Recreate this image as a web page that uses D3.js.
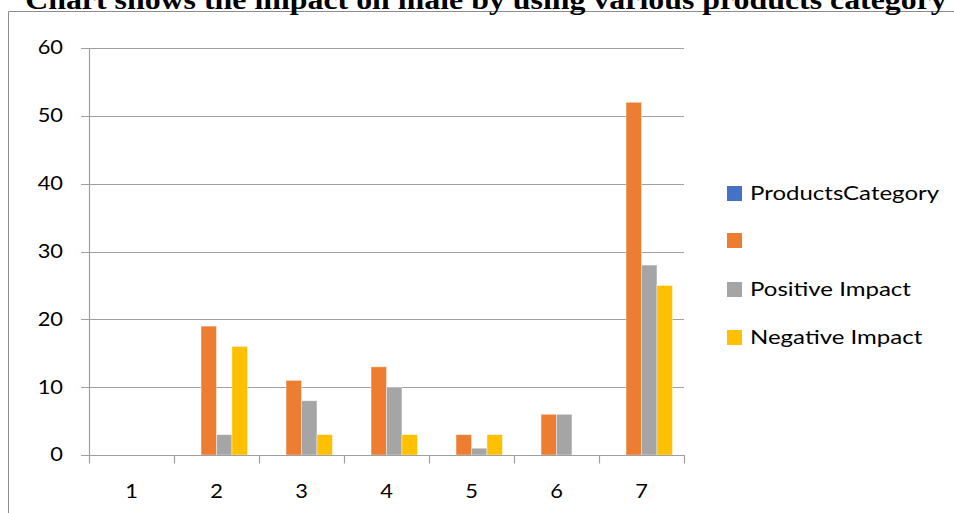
<!DOCTYPE html>
<html>
<head>
<meta charset="utf-8">
<script src="https://cdn.jsdelivr.net/npm/d3@7"></script>
<style>
  html, body { margin: 0; padding: 0; background: #fff; }
  svg { display: block; }
</style>
</head>
<body>
<svg id="chart" width="954" height="513"></svg>
<script>
// Chart data
const titleText = "Chart shows the impact on male by using various products category";
const categories = ["1", "2", "3", "4", "5", "6", "7"];
const seriesNames = ["ProductsCategory", "", "Positive Impact", "Negative Impact"];
const productsCategory = [0, 0, 0, 0, 0, 0, 0];
const unnamedSeries = [0, 19, 11, 13, 3, 6, 52];
const positiveImpact = [0, 3, 8, 10, 1, 6, 28];
const negativeImpact = [0, 16, 3, 3, 3, 0, 25];
const yTicks = [0, 10, 20, 30, 40, 50, 60];

const seriesValues = [productsCategory, unnamedSeries, positiveImpact, negativeImpact];
const colors = ["#4472C4", "#ED7D31", "#A5A5A5", "#FFC000"];
const sansFont = "Lato, 'Open Sans', sans-serif";
const stretch = 1.18; // the chart's lettering is set slightly wide

// Widen a text selection horizontally while keeping its glyph height
function widen(sel, factor) {
  sel.each(function () {
    const len = this.getComputedTextLength();
    if (len > 0) {
      d3.select(this)
        .attr("textLength", len * factor)
        .attr("lengthAdjust", "spacingAndGlyphs");
    }
  });
}

const svg = d3.select("#chart");

// Outer frame of the chart object
svg.append("path")
  .attr("d", "M8.5,513 L8.5,11.5 L954,11.5")
  .attr("fill", "none")
  .attr("stroke", "#8c8c8c")
  .attr("stroke-width", 1);

// Title
svg.append("text")
  .attr("x", 486)
  .attr("y", 8.5)
  .attr("text-anchor", "middle")
  .attr("font-family", "'Liberation Serif', 'Times New Roman', serif")
  .attr("font-weight", "bold")
  .attr("font-size", 27)
  .attr("fill", "#000")
  .text(titleText)
  .call(widen, stretch);

// Plot area
const plot = { left: 89, right: 684, top: 48, bottom: 455 };

const y = d3.scaleLinear()
  .domain([0, 60])
  .range([plot.bottom, plot.top]);

const gapRatio = 1.5 / 5.5; // gap width 150% of one bar
const x0 = d3.scaleBand()
  .domain(categories)
  .range([plot.left, plot.right])
  .paddingInner(gapRatio)
  .paddingOuter(gapRatio / 2);

const x1 = d3.scaleBand()
  .domain(d3.range(seriesNames.length))
  .range([0, x0.bandwidth()]);

// Horizontal gridlines
svg.append("g")
  .selectAll("line")
  .data(yTicks)
  .join("line")
  .attr("x1", plot.left - 8)
  .attr("x2", plot.right)
  .attr("y1", d => Math.round(y(d)) + 0.5)
  .attr("y2", d => Math.round(y(d)) + 0.5)
  .attr("stroke", "#a0a0a0")
  .attr("stroke-width", 1.2);

// Vertical axis line
svg.append("line")
  .attr("x1", plot.left + 0.5)
  .attr("x2", plot.left + 0.5)
  .attr("y1", plot.top)
  .attr("y2", plot.bottom + 1)
  .attr("stroke", "#a0a0a0")
  .attr("stroke-width", 1.2);

// Y axis labels
const yAxis = svg.append("g")
  .attr("transform", `translate(${plot.left - 26},0)`)
  .call(d3.axisLeft(y).tickValues(yTicks).tickSize(0).tickPadding(0));
yAxis.select(".domain").remove();
yAxis.selectAll("text")
  .attr("font-family", sansFont)
  .attr("font-size", 18.5)
  .attr("fill", "#000")
  .call(widen, stretch);

// Bars
const groups = svg.append("g")
  .selectAll("g")
  .data(categories)
  .join("g")
  .attr("transform", d => `translate(${x0(d)},0)`);

groups.selectAll("rect")
  .data((d, i) => seriesValues.map((vals, s) => ({ s, v: vals[i] })).filter(e => e.v > 0))
  .join("rect")
  .attr("x", d => x1(d.s))
  .attr("width", x1.bandwidth())
  .attr("y", d => y(d.v))
  .attr("height", d => y(0) - y(d.v))
  .attr("fill", d => colors[d.s])
  .attr("stroke", "#fff")
  .attr("stroke-opacity", 0.5)
  .attr("stroke-width", 0.8);

// Category axis with tick marks between categories
const xAxis = svg.append("g")
  .attr("transform", `translate(0,${Math.round(plot.bottom) + 0.5})`);
xAxis.append("line")
  .attr("x1", plot.left)
  .attr("x2", plot.right + 1)
  .attr("stroke", "#a0a0a0")
  .attr("stroke-width", 1.2);
const step = x0.step();
xAxis.selectAll("line.tick")
  .data(d3.range(categories.length + 1))
  .join("line")
  .attr("class", "tick")
  .attr("x1", i => Math.round(plot.left + i * step) + 0.5)
  .attr("x2", i => Math.round(plot.left + i * step) + 0.5)
  .attr("y1", 0)
  .attr("y2", 8)
  .attr("stroke", "#a0a0a0")
  .attr("stroke-width", 1.2);
xAxis.selectAll("text")
  .data(categories)
  .join("text")
  .attr("x", d => x0(d) + x0.bandwidth() / 2)
  .attr("y", 42)
  .attr("text-anchor", "middle")
  .attr("font-family", sansFont)
  .attr("font-size", 18.5)
  .attr("fill", "#000")
  .text(d => d)
  .call(widen, stretch);

// Legend
const legendRows = [193, 240, 289, 337];
const legend = svg.append("g")
  .selectAll("g")
  .data(seriesNames)
  .join("g")
  .attr("transform", (d, i) => `translate(727,${legendRows[i]})`);
legend.append("rect")
  .attr("x", 0)
  .attr("y", -7)
  .attr("width", 15)
  .attr("height", 15)
  .attr("fill", (d, i) => colors[i]);
legend.append("text")
  .attr("x", 23)
  .attr("y", 0)
  .attr("dy", "0.35em")
  .attr("font-family", sansFont)
  .attr("font-size", 20)
  .attr("fill", "#000")
  .text(d => d)
  .call(widen, 1.2);
</script>
</body>
</html>
